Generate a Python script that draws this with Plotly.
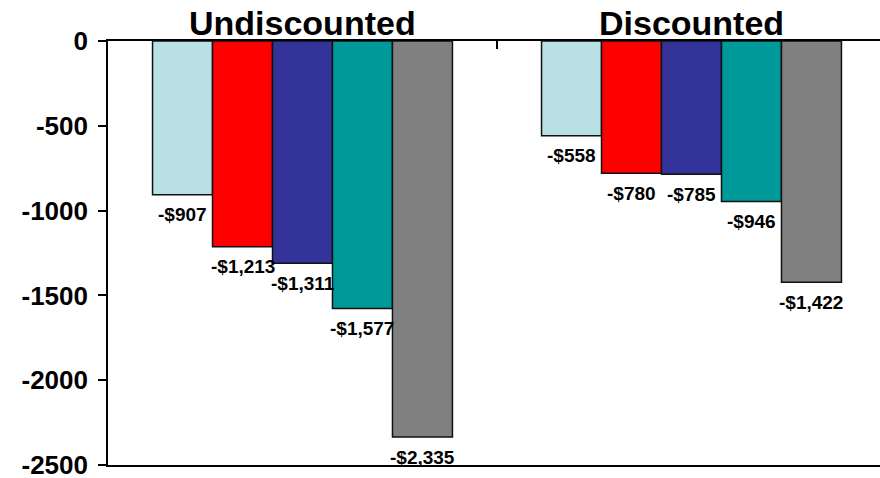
import plotly.graph_objects as go

categories = ["Undiscounted", "Discounted"]
series_names = ["Scenario 1", "Scenario 2", "Scenario 3", "Scenario 4", "Scenario 5"]
series_values = [
    [-907, -558],
    [-1213, -780],
    [-1311, -785],
    [-1577, -946],
    [-2335, -1422],
]
series_colors = ["#B9E0E3", "#FF0000", "#333399", "#009999", "#808080"]
y_tickvals = [0, -500, -1000, -1500, -2000, -2500]
y_ticktext = ["0", "-500", "-1000", "-1500", "-2000", "-2500"]

FONT = "Liberation Sans, Arial, sans-serif"
BARGAP = 0.229

fig = go.Figure()
for name, vals, col in zip(series_names, series_values, series_colors):
    fig.add_trace(go.Bar(
        name=name, x=categories, y=vals,
        marker=dict(color=col, line=dict(color="#111111", width=1.5)),
        showlegend=False,
    ))

# data labels below each bar
n = len(series_values)
bw = (1 - BARGAP) / n
for i, vals in enumerate(series_values):
    for j, v in enumerate(vals):
        txt = "-$" + format(abs(v), ",")
        fig.add_annotation(
            x=j + (i - (n - 1) / 2) * bw, y=v, xref="x", yref="y",
            text="<b>" + txt + "</b>", showarrow=False,
            yanchor="middle", yshift=-20,
            font=dict(family=FONT, size=19, color="black"),
        )

# category labels above the top axis
for cat in categories:
    fig.add_annotation(
        x=cat, y=1, xref="x", yref="paper",
        text="<b>" + cat + "</b>", showarrow=False,
        yanchor="bottom", yshift=-3,
        font=dict(family=FONT, size=34, color="black"),
    )

fig.update_layout(
    width=880, height=478,
    margin=dict(l=108, r=0, t=41, b=13),
    paper_bgcolor="white", plot_bgcolor="white",
    barmode="group", bargap=BARGAP, bargroupgap=0,
    font=dict(family=FONT, color="black"),
)
fig.update_xaxes(
    side="top", range=[-0.5, 1.4846], automargin=False,
    showline=True, linecolor="black", linewidth=1.6, mirror=True,
    ticks="inside", tickson="boundaries", ticklen=8, tickcolor="black", tickwidth=1.5,
    showticklabels=False,
    showgrid=False, zeroline=False,
)
fig.update_yaxes(
    range=[-2500, 0], tickvals=y_tickvals, ticktext=["<b>" + t + "</b>" for t in y_ticktext],
    automargin=False,
    showline=True, linecolor="black", linewidth=1.6,
    ticks="outside", ticklen=8, tickcolor="black", tickwidth=1.5,
    tickfont=dict(family=FONT, size=26, color="black"),
    ticklabelstandoff=5, ticklabeloverflow="allow",
    showgrid=False, zeroline=False,
)

fig.write_html("out.html")
